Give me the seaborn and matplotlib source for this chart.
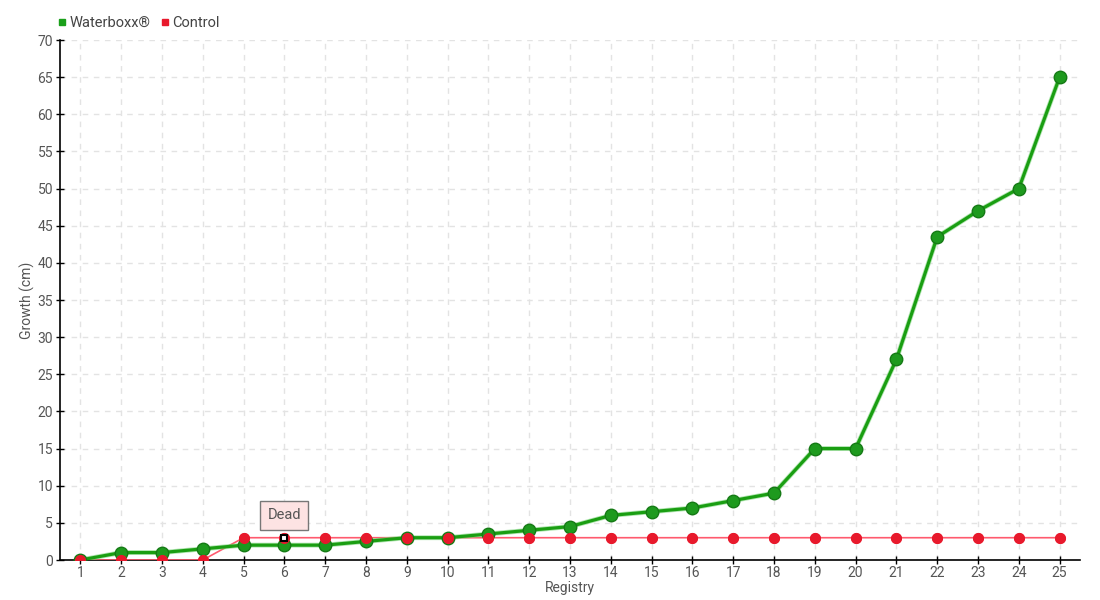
import matplotlib
matplotlib.use("Agg")
import matplotlib.pyplot as plt
import seaborn as sns
import pandas as pd
from matplotlib.lines import Line2D

registry = list(range(1, 26))
waterboxx = [0, 1, 1, 1.5, 2, 2, 2, 2.5, 3, 3, 3.5, 4, 4.5, 6, 6.5, 7, 8, 9, 15, 15, 27, 43.5, 47, 50, 65]
control = [0, 0, 0, 0, 3, 3, 3, 3, 3, 3, 3, 3, 3, 3, 3, 3, 3, 3, 3, 3, 3, 3, 3, 3, 3]
series_names = ["Waterboxx®", "Control"]
annot_x, annot_y, annot_text = 6, 3, "Dead"

sns.set_style("white")
plt.rcParams['font.family'] = ['Roboto', 'DejaVu Sans']

fig = plt.figure(figsize=(11, 6), dpi=100)
ax = fig.add_axes([60/1100, 40/600, 1020/1100, 520/600])

df_w = pd.DataFrame({"Registry": registry, "Growth": waterboxx})
df_c = pd.DataFrame({"Registry": registry, "Growth": control})

sns.lineplot(data=df_c, x="Registry", y="Growth", ax=ax, color="#ff5a6e", lw=1.2,
             marker="o", markersize=7, markerfacecolor="#e8192c", markeredgecolor="#e8192c",
             zorder=3)
sns.lineplot(data=df_w, x="Registry", y="Growth", ax=ax, color="#7ed67e", lw=3.5, zorder=4, alpha=0.6)
sns.lineplot(data=df_w, x="Registry", y="Growth", ax=ax, color="#1a9e12", lw=2.3,
             marker="o", markersize=9, markerfacecolor="#1e9a1e", markeredgecolor="#157a15",
             markeredgewidth=1.0, zorder=5)
ax.plot(df_c["Registry"], df_c["Growth"], ls="none", marker="o", markersize=7,
        markerfacecolor="#e8192c", markeredgecolor="#e8192c", zorder=6)

ax.plot([annot_x], [annot_y], marker="s", markersize=5, markerfacecolor="white",
        markeredgecolor="black", markeredgewidth=1.5, zorder=8)
ax.annotate(annot_text, xy=(annot_x, annot_y), xytext=(0, 16), textcoords="offset points",
            ha="center", va="center", fontsize=10.5, color="#555555",
            bbox=dict(boxstyle="square,pad=0.5", fc="#fde3e3", ec="#777777", lw=1),
            zorder=9)

ax.set_xlim(0.5, 25.5)
ax.set_ylim(0, 70)
ax.set_xticks(registry)
ax.set_yticks(range(0, 71, 5))
ax.grid(True, color="#e3e3e3", ls=(0, (4, 4)), lw=1)
for s in ["top", "right"]:
    ax.spines[s].set_visible(False)
for s in ["left", "bottom"]:
    ax.spines[s].set_color("black")
    ax.spines[s].set_linewidth(1.2)
ax.tick_params(axis="both", which="both", direction="inout", length=6, width=1,
               colors="black", labelcolor="#555555", labelsize=10, left=True, bottom=True)
ax.tick_params(axis="y", pad=2)
ax.tick_params(axis="x", pad=1)
ax.set_xlabel("Registry", color="#555555", fontsize=10, labelpad=1)
ax.set_ylabel("Growth (cm)", color="#555555", fontsize=10, labelpad=2)

handles = [Line2D([], [], ls="none", marker="s", markersize=5, color="#1aa01a"),
           Line2D([], [], ls="none", marker="s", markersize=5, color="#e8192c")]
fig.legend(handles, series_names, loc="upper left", bbox_to_anchor=(42/1100, 1 - 3/600),
           ncol=2, frameon=False, fontsize=10.5, handletextpad=0.0, columnspacing=0.5,
           handlelength=1.0, labelcolor="#444444")

fig.savefig("out.png", dpi=100)
